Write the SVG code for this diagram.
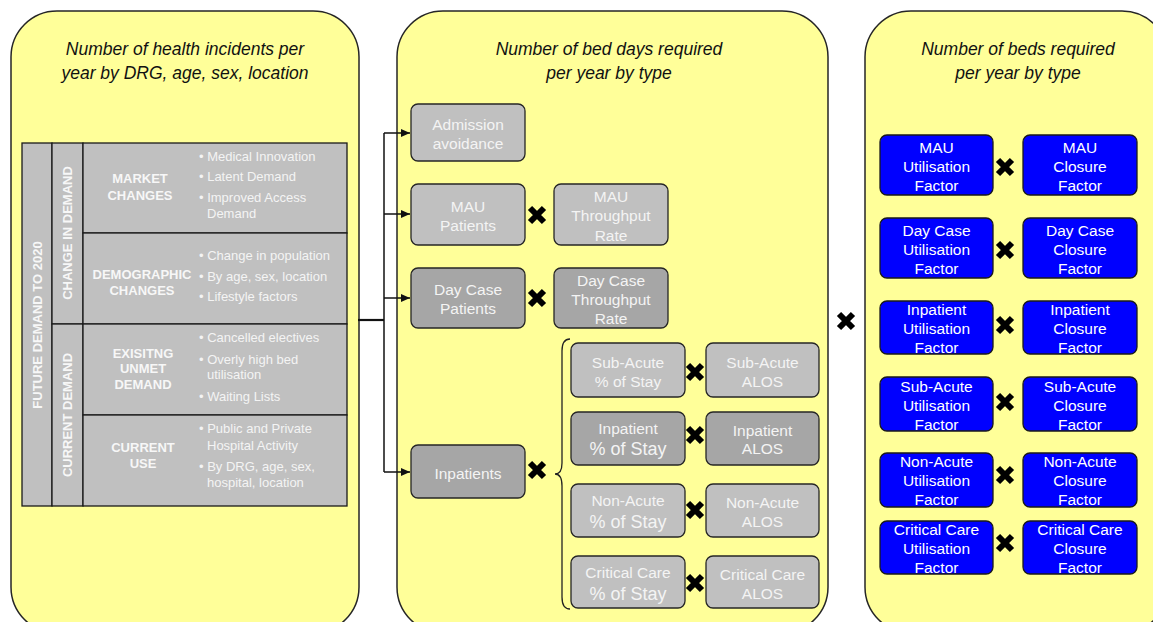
<svg xmlns="http://www.w3.org/2000/svg" xmlns:xlink="http://www.w3.org/1999/xlink" width="1153" height="622" viewBox="0 0 1153 622">
<style>
.panel{fill:#FFFF99;stroke:#262626;stroke-width:1.5}
.g1{fill:#C0C0C0;stroke:#262626;stroke-width:1.3}
.g2{fill:#A6A6A6;stroke:#262626;stroke-width:1.3}
.bl{fill:#0000FF;stroke:#1a1a1a;stroke-width:1.3}
.cell{fill:#C0C0C0;stroke:#1a1a1a;stroke-width:1.3}
text{font-family:'Liberation Sans',Arial,Helvetica,sans-serif}
.ttl{font-size:17.5px;font-style:italic;fill:#111;text-anchor:middle}
.gt{font-size:15.5px;fill:#F4F4F4;text-anchor:middle}
.big{font-size:18px}
.bt{font-size:15.5px;fill:#FFFFFF;text-anchor:middle}
.hd{font-size:13px;font-weight:bold;fill:#F7F7F7;text-anchor:middle}
.bu{font-size:13px;fill:#F4F4F4}
.conn{fill:none;stroke:#111;stroke-width:1.5}
</style>
<defs>
<marker id="arr" markerUnits="userSpaceOnUse" markerWidth="9" markerHeight="8" refX="9" refY="4" orient="auto">
<path d="M0,0 L9,4 L0,8 z" fill="#111"/>
</marker>
<g id="x"><path d="M-7,-7 L7,7 M7,-7 L-7,7" stroke="#000" stroke-width="6" fill="none"/></g>
</defs>

<g id="panel-left">
<rect class="panel" x="11" y="11" width="348" height="622" rx="46" ry="46"/>
<text class="ttl" x="185" y="55">Number of health incidents per</text>
<text class="ttl" x="185" y="79">year by DRG, age, sex, location</text>
</g>
<g id="panel-middle">
<rect class="panel" x="397" y="11" width="431" height="622" rx="46" ry="46"/>
<text class="ttl" x="609" y="55">Number of bed days required</text>
<text class="ttl" x="609" y="79">per year by type</text>
</g>
<g id="panel-right">
<rect class="panel" x="865" y="11" width="303" height="622" rx="46" ry="46"/>
<text class="ttl" x="1018" y="55">Number of beds required</text>
<text class="ttl" x="1018" y="79">per year by type</text>
</g>

<g id="demand-table">
<rect class="cell" x="22" y="143" width="30" height="363"/>
<rect class="cell" x="52" y="143" width="31" height="181"/>
<rect class="cell" x="52" y="324" width="31" height="182"/>
<rect class="cell" x="83" y="143" width="264" height="90"/>
<rect class="cell" x="83" y="233" width="264" height="91"/>
<rect class="cell" x="83" y="324" width="264" height="91"/>
<rect class="cell" x="83" y="415" width="264" height="91"/>
<text class="hd" transform="translate(37,325) rotate(-90)" y="4.5">FUTURE DEMAND TO 2020</text>
<text class="hd" transform="translate(67,233) rotate(-90)" y="4.5">CHANGE IN DEMAND</text>
<text class="hd" transform="translate(67,415) rotate(-90)" y="4.5">CURRENT DEMAND</text>
<text class="hd" x="140" y="182.5">MARKET</text>
<text class="hd" x="140" y="199.5">CHANGES</text>
<text class="bu" x="199" y="160.5">• Medical Innovation</text>
<text class="bu" x="199" y="180.5">• Latent Demand</text>
<text class="bu" x="199" y="201.5">• Improved Access</text>
<text class="bu" x="207" y="217.5">Demand</text>
<text class="hd" x="142" y="278.5">DEMOGRAPHIC</text>
<text class="hd" x="142" y="294.5">CHANGES</text>
<text class="bu" x="199" y="259.5">• Change in population</text>
<text class="bu" x="199" y="280.5">• By age, sex, location</text>
<text class="bu" x="199" y="300.5">• Lifestyle factors</text>
<text class="hd" x="143" y="357.5">EXISITNG</text>
<text class="hd" x="143" y="372.5">UNMET</text>
<text class="hd" x="143" y="388.5">DEMAND</text>
<text class="bu" x="199" y="341.5">• Cancelled electives</text>
<text class="bu" x="199" y="363.5">• Overly high bed</text>
<text class="bu" x="207" y="378.5">utilisation</text>
<text class="bu" x="199" y="400.5">• Waiting Lists</text>
<text class="hd" x="143" y="451.5">CURRENT</text>
<text class="hd" x="143" y="467.5">USE</text>
<text class="bu" x="199" y="432.5">• Public and Private</text>
<text class="bu" x="207" y="449.5">Hospital Activity</text>
<text class="bu" x="199" y="470.5">• By DRG, age, sex,</text>
<text class="bu" x="207" y="486.5">hospital, location</text>
</g>

<g id="connectors">
<path d="M358,320 L384,320" fill="none" stroke="#111" stroke-width="2.2"/>
<path class="conn" d="M384,133 L384,472"/>
<path class="conn" d="M384,133 L410,133" marker-end="url(#arr)"/>
<path class="conn" d="M384,214 L410,214" marker-end="url(#arr)"/>
<path class="conn" d="M384,298 L410,298" marker-end="url(#arr)"/>
<path class="conn" d="M384,472 L410,472" marker-end="url(#arr)"/>
<path d="M570,339 Q562,339 562,351 L562,463 Q562,474 555,474 Q562,474 562,486 L562,597 Q562,609 570,609" fill="none" stroke="#222" stroke-width="1.3"/>
</g>

<g id="admission-avoidance">
<rect class="g1" x="411" y="104" width="114" height="57" rx="7"/>
<text class="gt" x="468" y="130">Admission</text>
<text class="gt" x="468" y="148.5">avoidance</text>
</g>
<g id="mau-patients">
<rect class="g1" x="411" y="184" width="114" height="61" rx="7"/>
<text class="gt" x="468" y="211.5">MAU</text>
<text class="gt" x="468" y="230.5">Patients</text>
</g>
<use href="#x" transform="translate(537,215)"/>
<g id="mau-throughput">
<rect class="g1" x="554" y="184" width="114" height="61" rx="7"/>
<text class="gt" x="611" y="201.5">MAU</text>
<text class="gt" x="611" y="221">Throughput</text>
<text class="gt" x="611" y="240.5">Rate</text>
</g>
<g id="daycase-patients">
<rect class="g2" x="411" y="268" width="114" height="60" rx="7"/>
<text class="gt" x="468" y="294.5">Day Case</text>
<text class="gt" x="468" y="313.5">Patients</text>
</g>
<use href="#x" transform="translate(537,298)"/>
<g id="daycase-throughput">
<rect class="g2" x="554" y="268" width="114" height="60" rx="7"/>
<text class="gt" x="611" y="285.5">Day Case</text>
<text class="gt" x="611" y="304.5">Throughput</text>
<text class="gt" x="611" y="323.5">Rate</text>
</g>
<g id="inpatients">
<rect class="g2" x="411" y="445" width="114" height="53" rx="7"/>
<text class="gt" x="468" y="478.5">Inpatients</text>
</g>
<use href="#x" transform="translate(537,470)"/>

<g id="subacute-stay">
<rect class="g1" x="571" y="343" width="114" height="54" rx="7"/>
<text class="gt" x="628" y="367.5">Sub-Acute</text>
<text class="gt" x="628" y="386.5">% of Stay</text>
</g>
<use href="#x" transform="translate(695,372)"/>
<g id="subacute-alos">
<rect class="g1" x="706" y="343" width="113" height="54" rx="7"/>
<text class="gt" x="762.5" y="367.5">Sub-Acute</text>
<text class="gt" x="762.5" y="386.5">ALOS</text>
</g>
<g id="inpatient-stay">
<rect class="g2" x="571" y="412" width="114" height="53" rx="7"/>
<text class="gt" x="628" y="433.5">Inpatient</text>
<text class="gt big" x="628" y="454.5">% of Stay</text>
</g>
<use href="#x" transform="translate(695,435)"/>
<g id="inpatient-alos">
<rect class="g2" x="706" y="412" width="113" height="53" rx="7"/>
<text class="gt" x="762.5" y="435.5">Inpatient</text>
<text class="gt" x="762.5" y="453.5">ALOS</text>
</g>
<g id="nonacute-stay">
<rect class="g1" x="571" y="484" width="114" height="53" rx="7"/>
<text class="gt" x="628" y="505.5">Non-Acute</text>
<text class="gt big" x="628" y="527.5">% of Stay</text>
</g>
<use href="#x" transform="translate(695,510)"/>
<g id="nonacute-alos">
<rect class="g1" x="706" y="484" width="113" height="53" rx="7"/>
<text class="gt" x="762.5" y="507.5">Non-Acute</text>
<text class="gt" x="762.5" y="526.5">ALOS</text>
</g>
<g id="criticalcare-stay">
<rect class="g1" x="571" y="556" width="114" height="52" rx="7"/>
<text class="gt" x="628" y="577.5">Critical Care</text>
<text class="gt big" x="628" y="599.5">% of Stay</text>
</g>
<use href="#x" transform="translate(695,583)"/>
<g id="criticalcare-alos">
<rect class="g1" x="706" y="556" width="113" height="52" rx="7"/>
<text class="gt" x="762.5" y="579.5">Critical Care</text>
<text class="gt" x="762.5" y="598.5">ALOS</text>
</g>

<use href="#x" transform="translate(846,321)"/>

<g id="mau-utilisation">
<rect class="bl" x="880" y="135" width="113" height="60" rx="7"/>
<text class="bt" x="936.5" y="152.5">MAU</text>
<text class="bt" x="936.5" y="171.5">Utilisation</text>
<text class="bt" x="936.5" y="190.5">Factor</text>
</g>
<use href="#x" transform="translate(1005,167)"/>
<g id="mau-closure">
<rect class="bl" x="1023" y="135" width="114" height="60" rx="7"/>
<text class="bt" x="1080" y="152.5">MAU</text>
<text class="bt" x="1080" y="171.5">Closure</text>
<text class="bt" x="1080" y="190.5">Factor</text>
</g>
<g id="daycase-utilisation">
<rect class="bl" x="880" y="218" width="113" height="60" rx="7"/>
<text class="bt" x="936.5" y="235.5">Day Case</text>
<text class="bt" x="936.5" y="254.5">Utilisation</text>
<text class="bt" x="936.5" y="273.5">Factor</text>
</g>
<use href="#x" transform="translate(1005,250)"/>
<g id="daycase-closure">
<rect class="bl" x="1023" y="218" width="114" height="60" rx="7"/>
<text class="bt" x="1080" y="235.5">Day Case</text>
<text class="bt" x="1080" y="254.5">Closure</text>
<text class="bt" x="1080" y="273.5">Factor</text>
</g>
<g id="inpatient-utilisation">
<rect class="bl" x="880" y="301" width="113" height="53" rx="7"/>
<text class="bt" x="936.5" y="314.5">Inpatient</text>
<text class="bt" x="936.5" y="333.5">Utilisation</text>
<text class="bt" x="936.5" y="352.5">Factor</text>
</g>
<use href="#x" transform="translate(1005,325)"/>
<g id="inpatient-closure">
<rect class="bl" x="1023" y="301" width="114" height="53" rx="7"/>
<text class="bt" x="1080" y="314.5">Inpatient</text>
<text class="bt" x="1080" y="333.5">Closure</text>
<text class="bt" x="1080" y="352.5">Factor</text>
</g>
<g id="subacute-utilisation">
<rect class="bl" x="880" y="377" width="113" height="54" rx="7"/>
<text class="bt" x="936.5" y="391.5">Sub-Acute</text>
<text class="bt" x="936.5" y="410.5">Utilisation</text>
<text class="bt" x="936.5" y="429.5">Factor</text>
</g>
<use href="#x" transform="translate(1005,402)"/>
<g id="subacute-closure">
<rect class="bl" x="1023" y="377" width="114" height="54" rx="7"/>
<text class="bt" x="1080" y="391.5">Sub-Acute</text>
<text class="bt" x="1080" y="410.5">Closure</text>
<text class="bt" x="1080" y="429.5">Factor</text>
</g>
<g id="nonacute-utilisation">
<rect class="bl" x="880" y="453" width="113" height="54" rx="7"/>
<text class="bt" x="936.5" y="466.5">Non-Acute</text>
<text class="bt" x="936.5" y="485.5">Utilisation</text>
<text class="bt" x="936.5" y="504.5">Factor</text>
</g>
<use href="#x" transform="translate(1005,475)"/>
<g id="nonacute-closure">
<rect class="bl" x="1023" y="453" width="114" height="54" rx="7"/>
<text class="bt" x="1080" y="466.5">Non-Acute</text>
<text class="bt" x="1080" y="485.5">Closure</text>
<text class="bt" x="1080" y="504.5">Factor</text>
</g>
<g id="criticalcare-utilisation">
<rect class="bl" x="880" y="521" width="113" height="53" rx="7"/>
<text class="bt" x="936.5" y="534.5">Critical Care</text>
<text class="bt" x="936.5" y="554">Utilisation</text>
<text class="bt" x="936.5" y="573">Factor</text>
</g>
<use href="#x" transform="translate(1005,543)"/>
<g id="criticalcare-closure">
<rect class="bl" x="1023" y="521" width="114" height="53" rx="7"/>
<text class="bt" x="1080" y="534.5">Critical Care</text>
<text class="bt" x="1080" y="554">Closure</text>
<text class="bt" x="1080" y="573">Factor</text>
</g>
</svg>
